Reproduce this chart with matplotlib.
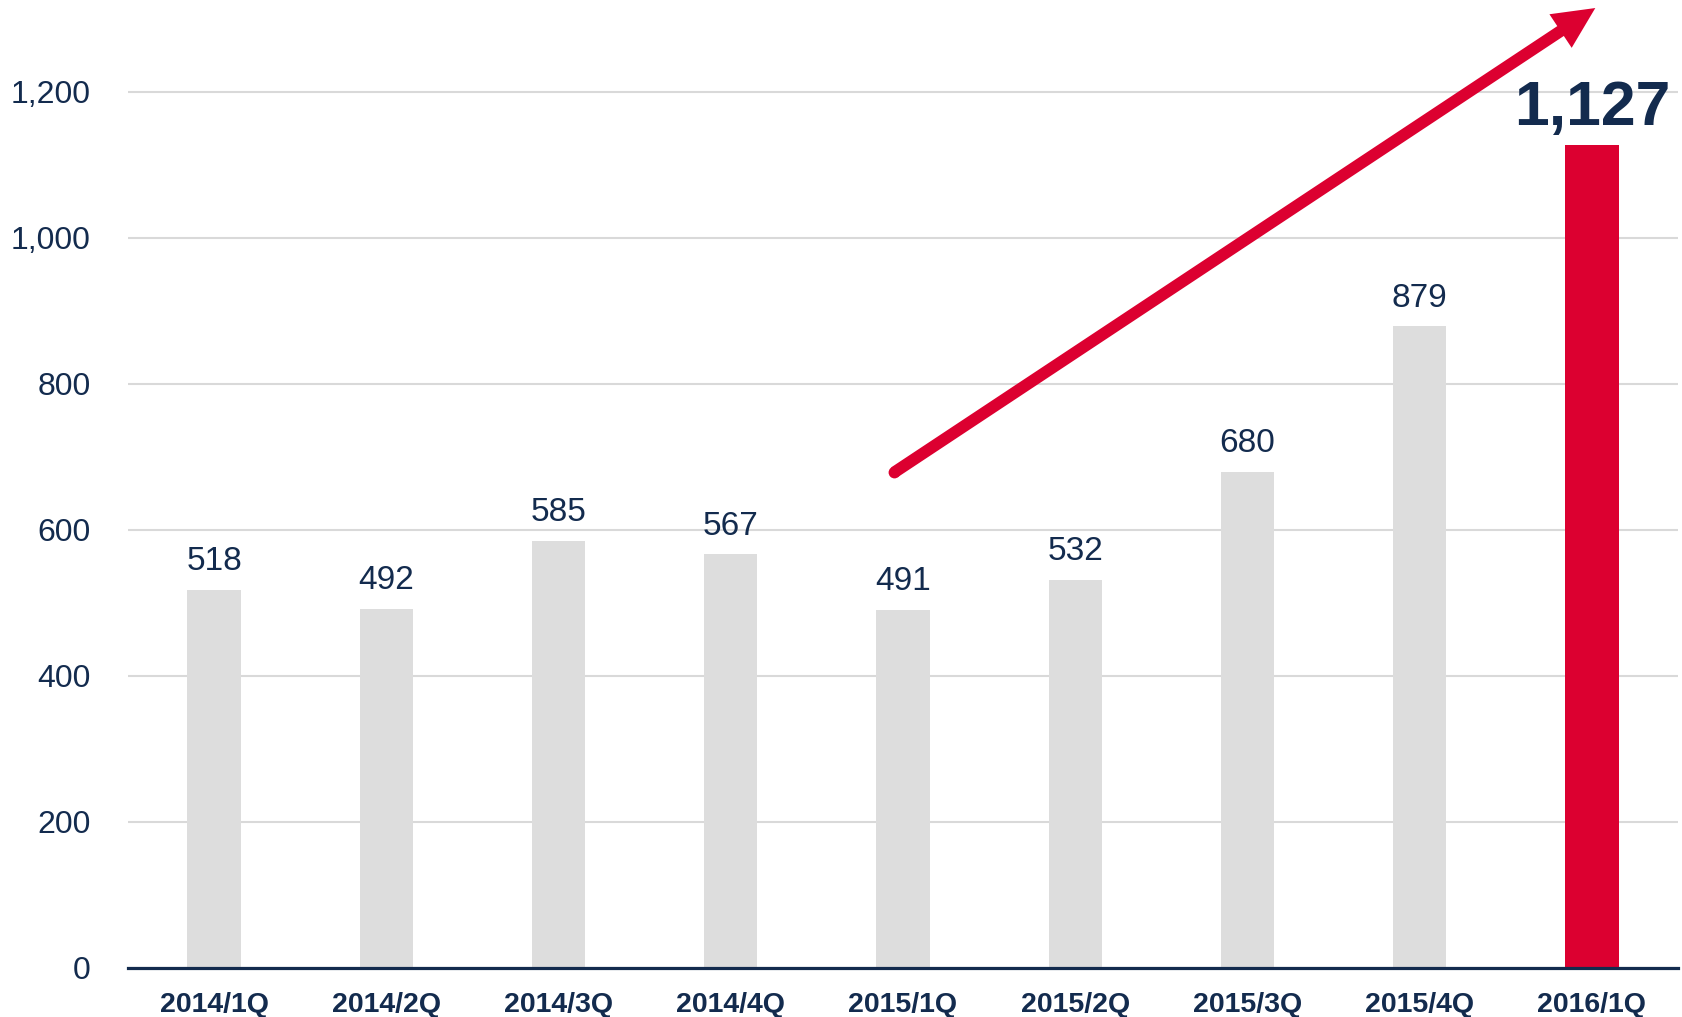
import numpy as np
import matplotlib.pyplot as plt
from matplotlib.patches import FancyArrowPatch

plt.rcParams['font.family'] = ['Liberation Sans', 'DejaVu Sans']

quarters = ['2014/1Q', '2014/2Q', '2014/3Q', '2014/4Q', '2015/1Q',
            '2015/2Q', '2015/3Q', '2015/4Q', '2016/1Q']
values = [518, 492, 585, 567, 491, 532, 680, 879, 1127]
yticks = [0, 200, 400, 600, 800, 1000, 1200]

navy = '#132B4E'
grey = '#DDDDDD'
red = '#DC0030'

fig = plt.figure(figsize=(16.82, 10.17), dpi=100)
ax = fig.add_axes([0.0761, 0.0482, 0.9215, 0.9518])

x = np.arange(len(quarters))
colors = [grey] * (len(values) - 1) + [red]
ax.bar(x, values, width=0.31, color=colors, zorder=2)

ax.set_xlim(-0.5, len(quarters) - 0.5)
ax.set_ylim(0, 1326)
ax.set_yticks(yticks)
ax.set_yticklabels([f'{v:,}' for v in yticks])
ax.set_xticks(x)
ax.set_xticklabels(quarters, fontweight='bold')
ax.tick_params(axis='y', length=0, pad=27, labelsize=23, labelcolor=navy)
ax.tick_params(axis='x', length=0, pad=17, labelsize=20.5, labelcolor=navy)

ax.grid(axis='y', color='#D9D9D9', lw=1.5, zorder=0)
for s in ['top', 'right', 'left']:
    ax.spines[s].set_visible(False)
ax.spines['bottom'].set_color(navy)
ax.spines['bottom'].set_linewidth(2.3)
ax.spines['bottom'].set_zorder(3)

# value labels
for xi, v in zip(x[:-1], values[:-1]):
    ax.annotate(f'{v:,}', (xi, v), xytext=(0, 14), textcoords='offset points',
                ha='center', va='baseline', fontsize=24, color=navy)
ax.text(x[-1], 1155, f'{values[-1]:,}', ha='center', va='baseline',
        fontsize=45, fontweight='bold', color=navy)

# growth arrow
start, end = (3.95, 679), (8.02, 1315)
arrow = FancyArrowPatch(start, end, mutation_scale=1,
                        arrowstyle='simple,head_length=30,head_width=29,tail_width=8.5',
                        color=red, lw=0, shrinkA=0, shrinkB=0,
                        clip_on=False, zorder=4)
ax.add_patch(arrow)
ax.plot(*start, 'o', ms=8.5, color=red, mew=0, clip_on=False, zorder=4)

fig.savefig('out.png', dpi=100)
